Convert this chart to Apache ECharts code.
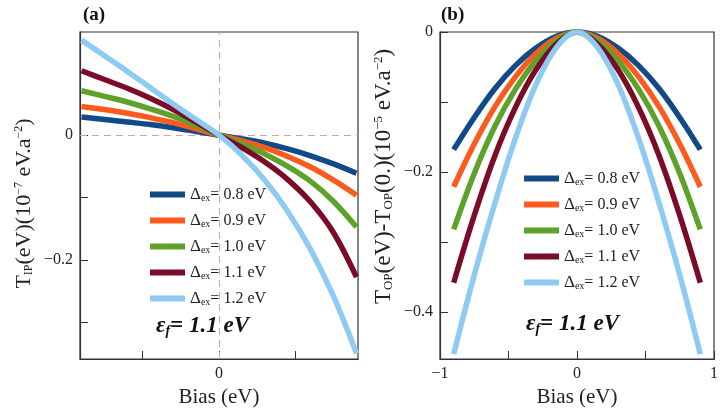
<!DOCTYPE html>
<html>
<head>
<meta charset="utf-8">
<script src="https://cdn.jsdelivr.net/npm/echarts@6/dist/echarts.min.js"></script>
<style>
  html, body { margin: 0; padding: 0; background: #fff; }
  #main { width: 721px; height: 413px; }
</style>
</head>
<body>
<div id="main"></div>
<script>
// Δex values for the five curves (legend)
var deltaEx = ['0.8', '0.9', '1.0', '1.1', '1.2'];
var lineColors = ['#114a87', '#fd5a1e', '#5ea22c', '#7a0c27', '#8ecbf4'];

// panel (a): T_IP (10^-7 eV.a^-2) vs bias (eV)
var biasA = [-0.9, -0.75, -0.6, -0.45, -0.3, -0.15, 0, 0.15, 0.3, 0.45, 0.6, 0.75, 0.9];
var tip08 = [0.029, 0.025, 0.021, 0.017, 0.012, 0.006, 0, -0.006, -0.013, -0.022, -0.033, -0.046, -0.061];
var tip09 = [0.046, 0.041, 0.035, 0.028, 0.020, 0.010, 0, -0.009, -0.020, -0.034, -0.051, -0.072, -0.096];
var tip10 = [0.071, 0.062, 0.053, 0.042, 0.030, 0.016, 0, -0.014, -0.030, -0.050, -0.074, -0.106, -0.147];
var tip11 = [0.103, 0.089, 0.075, 0.059, 0.041, 0.021, 0, -0.020, -0.043, -0.071, -0.107, -0.156, -0.227];
var tip12 = [0.152, 0.127, 0.102, 0.076, 0.050, 0.025, 0, -0.032, -0.072, -0.122, -0.183, -0.258, -0.349];

// panel (b): T_OP(V) - T_OP(0) (10^-5 eV.a^-2) vs bias (eV)
var biasB = [-0.9, -0.75, -0.6, -0.45, -0.3, -0.15, 0, 0.15, 0.3, 0.45, 0.6, 0.75, 0.9];
var top08 = [-0.168, -0.122, -0.081, -0.048, -0.023, -0.006, 0, -0.006, -0.023, -0.048, -0.081, -0.122, -0.168];
var top09 = [-0.221, -0.160, -0.107, -0.064, -0.031, -0.009, 0, -0.009, -0.031, -0.064, -0.107, -0.160, -0.221];
var top10 = [-0.282, -0.202, -0.135, -0.082, -0.041, -0.012, 0, -0.012, -0.041, -0.082, -0.135, -0.202, -0.282];
var top11 = [-0.358, -0.262, -0.177, -0.108, -0.054, -0.017, 0, -0.017, -0.054, -0.108, -0.177, -0.262, -0.358];
var top12 = [-0.460, -0.347, -0.245, -0.152, -0.075, -0.022, 0, -0.022, -0.075, -0.152, -0.245, -0.347, -0.460];

var serif = '"Liberation Serif", "DejaVu Serif", serif';
var valuesA = [tip08, tip09, tip10, tip11, tip12];
var valuesB = [top08, top09, top10, top11, top12];

function pairs(xs, ys) {
  return xs.map(function (x, i) { return [x, ys[i]]; });
}

function minusFmt(v) {
  return v < 0 ? '\u2212' + (-v) : String(v);
}

function nameRich(size) {
  return {
    n: { fontFamily: serif, fontSize: size, color: '#222' },
    s: { fontFamily: serif, fontSize: Math.round(size * 0.55), color: '#222', verticalAlign: 'bottom' },
    p: { fontFamily: serif, fontSize: Math.round(size * 0.55), color: '#222', verticalAlign: 'top' }
  };
}

function axis(idx, min, max, ticks, labels, extra) {
  var a = {
    type: 'value',
    gridIndex: idx,
    min: min,
    max: max,
    splitLine: { show: false },
    axisLine: { show: true, onZero: false, lineStyle: { color: '#333', width: 1.2 } },
    axisTick: { show: true, inside: true, length: 8, customValues: ticks, lineStyle: { color: '#333' } },
    axisLabel: { customValues: labels, formatter: minusFmt, fontFamily: serif, fontSize: 16, color: '#222', margin: 7 }
  };
  for (var k in extra) a[k] = extra[k];
  return a;
}

var series = [];
deltaEx.forEach(function (d, i) {
  series.push({
    name: d, type: 'line', xAxisIndex: 0, yAxisIndex: 0,
    data: pairs(biasA, valuesA[i]), smooth: 0.35, showSymbol: false,
    lineStyle: { width: 5.5, color: lineColors[i] }, itemStyle: { color: lineColors[i] }, z: 3
  });
});
deltaEx.forEach(function (d, i) {
  series.push({
    name: d, type: 'line', xAxisIndex: 1, yAxisIndex: 1,
    data: pairs(biasB, valuesB[i]), smooth: 0.35, showSymbol: false,
    lineStyle: { width: 5.5, color: lineColors[i] }, itemStyle: { color: lineColors[i] }, z: 3
  });
});
// pink dashed zero lines in panel (a)
series[0].markLine = {
  silent: true, symbol: ['none', 'none'], label: { show: false }, z: 1,
  lineStyle: { type: [7, 5], color: '#dc9eaa', width: 1 },
  data: [{ xAxis: 0 }, { yAxis: 0 }]
};

function legendAt(left, top) {
  return {
    orient: 'vertical', left: left, top: top, data: deltaEx,
    icon: 'rect', itemWidth: 35, itemHeight: 6, itemGap: 9,
    formatter: function (name) { return '{d|\u0394}{s|ex}{t|= ' + name + ' eV}'; },
    textStyle: {
      rich: {
        d: { fontFamily: serif, fontSize: 17, color: '#222' },
        s: { fontFamily: serif, fontSize: 10, color: '#222', verticalAlign: 'bottom' },
        t: { fontFamily: serif, fontSize: 16, color: '#222' }
      }
    }
  };
}

function epsText(x, y) {
  return {
    type: 'text', left: x, top: y,
    style: {
      text: '{e|\u03b5}{f|f}{e|= 1.1 eV}',
      rich: {
        e: { fontFamily: serif, fontSize: 23, fontWeight: 'bold', fontStyle: 'italic', fill: '#111' },
        f: { fontFamily: serif, fontSize: 14, fontWeight: 'bold', fontStyle: 'italic', fill: '#111', verticalAlign: 'bottom' }
      }
    }
  };
}

var chart = echarts.init(document.getElementById('main'), null, { renderer: 'canvas' });
chart.setOption({
  animation: false,
  backgroundColor: '#fff',
  grid: [
    { left: 80, right: 363, top: 32, bottom: 54, show: true, borderColor: '#333', borderWidth: 1.2 },
    { left: 440, right: 4, top: 32, bottom: 54, show: true, borderColor: '#333', borderWidth: 1.2 }
  ],
  xAxis: [
    axis(0, -0.91, 0.91, [-0.5, 0, 0.5], [0], {
      name: 'Bias (eV)', nameLocation: 'middle', nameGap: 22,
      nameTextStyle: { fontFamily: serif, fontSize: 21, color: '#222' }
    }),
    axis(1, -1, 1, [-1, -0.5, 0, 0.5, 1], [-1, 0, 1], {
      name: 'Bias (eV)', nameLocation: 'middle', nameGap: 22,
      nameTextStyle: { fontFamily: serif, fontSize: 21, color: '#222' }
    })
  ],
  yAxis: [
    axis(0, -0.358, 0.165, [-0.3, -0.2, -0.1, 0, 0.1], [-0.2, 0], {
      name: '{n|T}{s|IP}{n|(eV)(10}{p|\u22127}{n| eV.a}{p|\u22122}{n|)}',
      nameLocation: 'middle', nameGap: 45,
      nameTextStyle: { rich: nameRich(22), padding: [0, 16, 0, 0] }
    }),
    axis(1, -0.467, 0, [-0.4, -0.3, -0.2, -0.1, 0], [-0.4, -0.2, 0], {
      name: '{n|T}{s|OP}{n|(eV)-T}{s|OP}{n|(0.)(10}{p|\u22125}{n| eV.a}{p|\u22122}{n|)}',
      nameLocation: 'middle', nameGap: 45,
      nameTextStyle: { rich: nameRich(23), padding: [0, 0, 0, 38] }
    })
  ],
  legend: [legendAt(145, 181), legendAt(519, 165)],
  graphic: [
    { type: 'text', left: 83, top: 6, style: { text: '(a)', fontFamily: serif, fontSize: 19, fontWeight: 'bold', fill: '#111' } },
    { type: 'text', left: 441, top: 6, style: { text: '(b)', fontFamily: serif, fontSize: 19, fontWeight: 'bold', fill: '#111' } },
    epsText(156, 315),
    epsText(526, 313)
  ],
  series: series
});
</script>
</body>
</html>
